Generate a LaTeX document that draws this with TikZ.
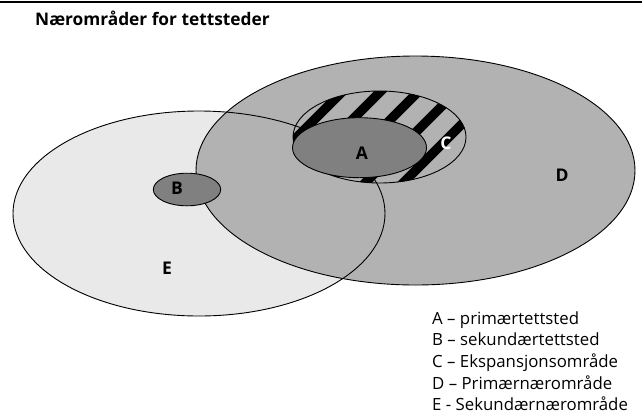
\documentclass[tikz,border=0pt]{standalone}
\usepackage{fontspec}
\setmainfont{Open Sans}
\definecolor{dfill}{gray}{0.70}
\definecolor{efill}{gray}{0.915}
\definecolor{afill}{gray}{0.50}
\begin{document}
\begin{tikzpicture}[x=1pt,y=-1pt,
  outl/.style={draw=black,line width=0.9pt},
  lbl/.style={font=\bfseries\fontsize{17.5}{20}\selectfont,inner sep=0pt},
  legend/.style={font=\fontsize{16.8}{20}\selectfont,anchor=base west,inner sep=0pt}]
\useasboundingbox (0,0) rectangle (642,416);
\fill[white] (0,0) rectangle (642,416);
% top rule
\draw[line width=1.6pt] (0,2) -- (642,2);
\node[anchor=base west,inner sep=0pt,font=\bfseries\fontsize{17.3}{20}\selectfont] (title) at (35,25.5) {Nærområder for tettsteder};
% E fill
\fill[efill] (199,213.5) ellipse [x radius=186pt, y radius=102.5pt];
% D
\filldraw[fill=dfill,outl] (415.5,170.5) ellipse [x radius=219.5pt, y radius=114.5pt];
% C hatched
\begin{scope}
  \clip (379.5,137) ellipse [x radius=86.5pt, y radius=46pt];
  \fill[dfill] (280,80) rectangle (480,200);
  \foreach \xx in {158,196,234,272,310,348,386,424,462,500}
    \draw[line width=9.5pt] (\xx,200) -- (\xx+130,70);
\end{scope}
\draw[outl] (379.5,137) ellipse [x radius=86.5pt, y radius=46pt];
% E outline on top
\draw[outl] (199,213.5) ellipse [x radius=186pt, y radius=102.5pt];
% A and B
\filldraw[fill=afill,outl] (359.5,147.7) ellipse [x radius=67pt, y radius=30pt];
\filldraw[fill=afill,outl] (187,189.5) ellipse [x radius=33.7pt, y radius=16.3pt];
% labels
\node[lbl] (la) at (362,153) {A};
\node[lbl] (lb) at (177,188) {B};
\node[lbl,text=white] (lc) at (446,143) {C};
\node[lbl] (ld) at (562,175) {D};
\node[lbl] (le) at (167,268) {E};
% legend
\node[legend] (l1) at (432,324) {A – primærtettsted};
\node[legend] (l2) at (432,345.7) {B – sekundærtettsted};
\node[legend] (l3) at (432,367.4) {C – Ekspansjonsområde};
\node[legend] (l4) at (432,389) {D – Primærnærområde};
\node[legend] (l5) at (432,410.7) {E - Sekundærnærområde};
\end{tikzpicture}
\end{document}
